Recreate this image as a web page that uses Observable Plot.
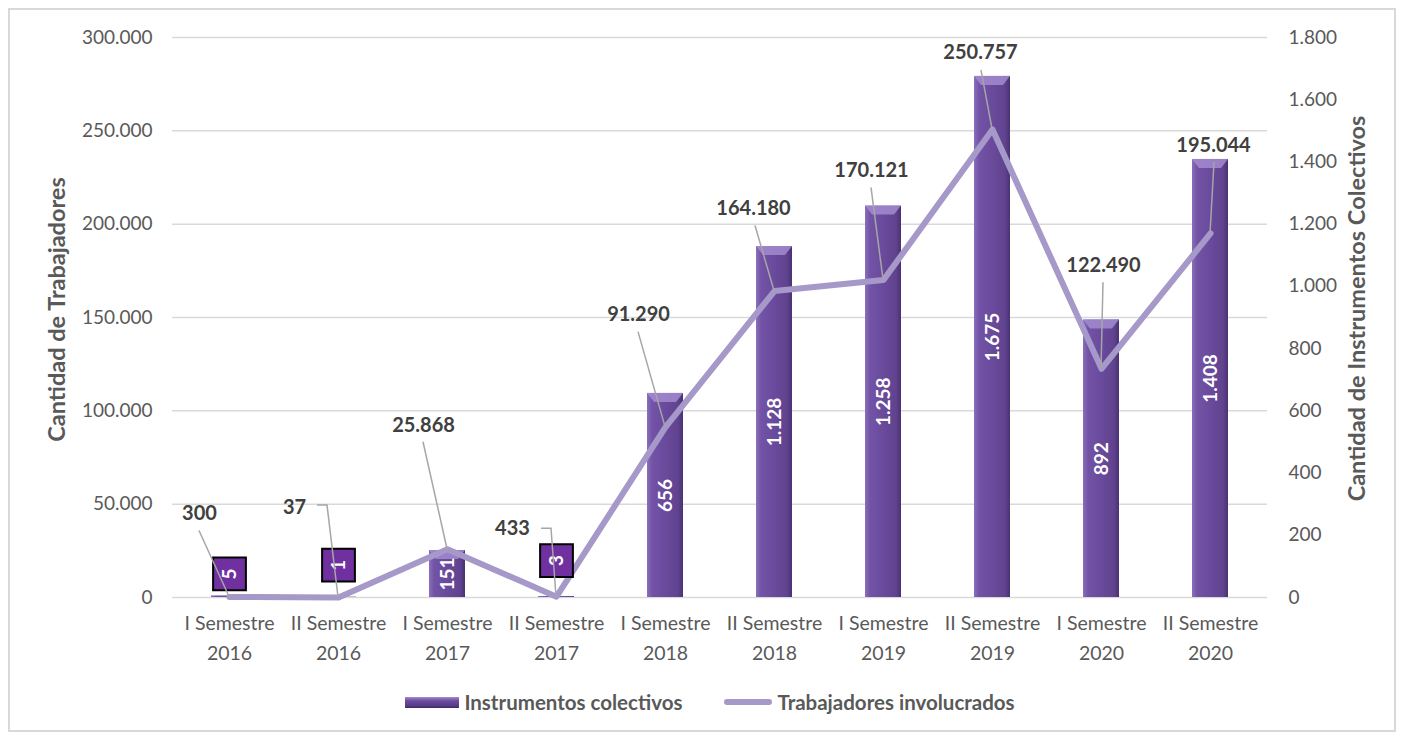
<!DOCTYPE html>
<html>
<head>
<meta charset="utf-8">
<script src="https://cdn.jsdelivr.net/npm/d3@7"></script>
<script src="https://cdn.jsdelivr.net/npm/@observablehq/plot@0.6"></script>
<style>
  html, body { margin: 0; padding: 0; background: #fff; }
  body { width: 1404px; height: 736px; overflow: hidden; position: relative; font-family: Lato, "Open Sans", sans-serif; }
  #frame { position: absolute; left: 8px; top: 8px; width: 1388px; height: 724px; border: 2px solid #d9d9d9; box-sizing: border-box; }
  #chart { position: absolute; left: 0; top: 0; }
  #legend { position: absolute; left: 0; top: 690px; width: 1404px; padding-left: 16px; box-sizing: border-box;
            display: flex; justify-content: center; align-items: center; gap: 42px;
            font-family: Lato, sans-serif; font-weight: bold; font-size: 20.5px; color: #595959; }
  .item { display: flex; align-items: center; }
  .sw-bar { width: 54px; height: 11px; margin-right: 5px;
            background: linear-gradient(#a58bd0, #6c4c9f 35%, #5a3e8a 75%, #3f2a63); }
  .sw-line { width: 48px; height: 6px; border-radius: 3px; background: #a698c8; margin-right: 5px; }
</style>
</head>
<body>
<div id="frame"></div>
<div id="chart"></div>
<div id="legend">
  <div class="item"><div class="sw-bar"></div><span>Instrumentos colectivos</span></div>
  <div class="item"><div class="sw-line"></div><span>Trabajadores involucrados</span></div>
</div>
<script>
// ---- data ----
const semesters = ["I Semestre","II Semestre","I Semestre","II Semestre","I Semestre","II Semestre","I Semestre","II Semestre","I Semestre","II Semestre"];
const years = ["2016","2016","2017","2017","2018","2018","2019","2019","2020","2020"];
const instrumentos = [5, 1, 151, 3, 656, 1128, 1258, 1675, 892, 1408];
const trabajadores = [300, 37, 25868, 433, 91290, 164180, 170121, 250757, 122490, 195044];
const leftTicks = [0, 50000, 100000, 150000, 200000, 250000, 300000];
const rightTicks = [0, 200, 400, 600, 800, 1000, 1200, 1400, 1600, 1800];
const leftTitle = "Cantidad de Trabajadores";
const rightTitle = "Cantidad de Instrumentos Colectivos";

// ---- label layout (pixel offsets relative to each data point) ----
const lineLabelOffsets = [[-30,-83],[-44,-90],[-24,-124],[-44,-68],[-27,-112],[-21,-82],[-12,-109],[-12,-77],[2,-103],[3,-88]];
const leaderStarts = [[[-30,-66]],[[-21,-92],[-11,-92]],[[-24,-107]],[[-15,-68],[-5,-68]],[[-27,-95]],[[-19,-65]],[[-12,-92]],[[-11,-59]],[[2,-86]],[[4,-71]]];
const smallBoxOffsets = [-22, -32, null, -36, null, null, null, null, null, null];

const fmt = d3.formatLocale({decimal: ",", thousands: ".", grouping: [3], currency: ["", ""]}).format(",d");
const k = 300000 / 1800; // right-axis units -> left-axis units

const categories = semesters.map((s, i) => s + "\n" + years[i]);
const data = categories.map((c, i) => ({cat: c, inst: instrumentos[i], trab: trabajadores[i], instScaled: instrumentos[i] * k, i}));

function leaders(index, scales) {
  const x = scales.x, y = scales.y;
  const half = x.bandwidth ? x.bandwidth() / 2 : 0;
  const g = d3.create("svg:g").attr("fill", "none").attr("stroke", "#a6a6a6").attr("stroke-width", 1.5);
  data.forEach((d, i) => {
    const px = x(d.cat) + half, py = y(d.trab);
    const pts = leaderStarts[i].map(([a, b]) => [px + a, py + b]).concat([[px, py]]);
    g.append("path").attr("d", d3.line()(pts));
  });
  return g.node();
}

// bevel highlight on top of each bar (drawn from the library's scales)
function bevels(index, scales) {
  const x = scales.x, y = scales.y;
  const w = x.bandwidth ? x.bandwidth() : 0;
  const g = d3.create("svg:g");
  data.forEach(d => {
    const x0 = x(d.cat), top = y(d.instScaled), bottom = y(0);
    if (bottom - top < 20) return;
    const b = 7;
    g.append("path").attr("fill", "#a78ed2").attr("fill-opacity", 0.8)
      .attr("d", d3.line()([[x0, top], [x0 + w, top], [x0 + w - b, top + b + 2], [x0 + b, top + b + 2]]) + "Z");
  });
  return g.node();
}

const smallMarks = [];
data.forEach((d, i) => {
  if (smallBoxOffsets[i] == null) return;
  smallMarks.push(Plot.dot([d], {x: "cat", y: "instScaled", symbol: "square", r: 18.5, fill: "#7030a0", stroke: "#000", strokeWidth: 2, dy: smallBoxOffsets[i]}));
  smallMarks.push(Plot.text([d], {x: "cat", y: "instScaled", text: dd => fmt(dd.inst), rotate: -90, fill: "white", fontWeight: "bold", fontSize: 19, dy: smallBoxOffsets[i]}));
});

const lineLabelMarks = data.map((d, i) => Plot.text([d], {
  x: "cat", y: "trab", text: dd => fmt(dd.trab), dx: lineLabelOffsets[i][0], dy: lineLabelOffsets[i][1],
  fill: "#404040", fontWeight: "bold", fontSize: 20
}));

const chart = Plot.plot({
  width: 1404,
  height: 680,
  marginLeft: 172,
  marginRight: 137,
  marginTop: 37,
  marginBottom: 83,
  style: {fontFamily: "Lato, 'Open Sans', sans-serif", fontSize: "19px", color: "#595959", background: "transparent", overflow: "visible"},
  x: {domain: categories, paddingInner: 0.67, paddingOuter: 0.335, axis: null},
  y: {domain: [0, 300000], axis: null},
  marks: [
    Plot.gridY(leftTicks, {stroke: "#d9d9d9", strokeOpacity: 1, strokeWidth: 1.5}),
    Plot.barY(data, {x: "cat", y: "instScaled", fill: "url(#barGrad)"}),
    bevels,
    Plot.line(data, {x: "cat", y: "trab", stroke: "#a698c8", strokeWidth: 6, strokeLinejoin: "round", strokeLinecap: "round"}),
    Plot.text(data.filter(d => d.inst >= 100), {x: "cat", y: d => d.instScaled / 2, text: d => fmt(d.inst), rotate: -90, fill: "white", fontWeight: "bold", fontSize: 19}),
    ...smallMarks,
    leaders,
    ...lineLabelMarks,
    Plot.axisY({anchor: "left", ticks: leftTicks, tickFormat: fmt, tickSize: 0, tickPadding: 20, label: null, color: "#595959", fontSize: 19}),
    Plot.axisY({anchor: "right", ticks: rightTicks.map(v => v * k), tickFormat: v => fmt(Math.round(v / k)), tickSize: 0, tickPadding: 21, label: null, color: "#595959", fontSize: 19}),
    Plot.axisX({tickSize: 0, tickPadding: 12, label: null, lineHeight: 1.5, color: "#595959", fontSize: 19.5, tickFormat: d => d}),
    Plot.text([leftTitle], {text: d => d, frameAnchor: "left", textAnchor: "middle", dx: -115, dy: -8, rotate: -90, fontWeight: "bold", fontSize: 23.5, fill: "#595959"}),
    Plot.text([rightTitle], {text: d => d, frameAnchor: "right", textAnchor: "middle", dx: 90, dy: -9, rotate: -90, fontWeight: "bold", fontSize: 23.5, fill: "#595959"})
  ]
});

const defs = d3.select(chart).insert("defs", ":first-child");
const grad = defs.append("linearGradient").attr("id", "barGrad").attr("x1", 0).attr("x2", 1).attr("y1", 0).attr("y2", 0);
[[0, "#8a6fba"], [0.14, "#7253a6"], [0.5, "#6a4a9c"], [0.86, "#60438f"], [1, "#4a3172"]].forEach(([o, c]) =>
  grad.append("stop").attr("offset", o).attr("stop-color", c));

document.getElementById("chart").appendChild(chart);
</script>
</body>
</html>
